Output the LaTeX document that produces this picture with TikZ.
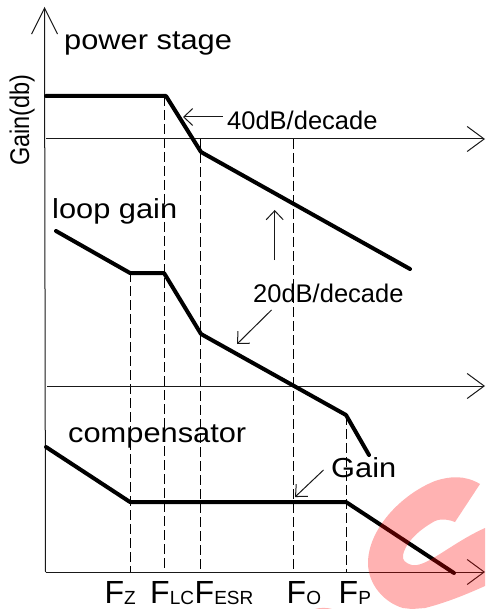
\documentclass[tikz,border=0pt]{standalone}
\usepackage{fontspec}
\usepackage{graphicx}
\setmainfont{Liberation Sans}
\usetikzlibrary{arrows.meta}
\tikzset{
 thin line/.style={line width=1pt,black!90},
 y arrow/.style={thin line,-{Straight Barb[length=26pt,width=26pt,line width=1pt]}},
 open arrow/.style={thin line,-{Straight Barb[length=17pt,width=25pt,line width=1pt]}},
 small arrow/.style={thin line,-{Straight Barb[length=9pt,width=17pt,line width=1pt]}},
 guide/.style={line width=1pt,dash pattern=on 10pt off 4pt},
 curve/.style={line width=4pt,line cap=round,line join=round},
 label/.style={inner sep=0pt,anchor=base west,font=\fontsize{27.500}{28}\selectfont},
 slope/.style={inner sep=0pt,anchor=base west,font=\fontsize{25.500}{26}\selectfont},
 flabel/.style={inner sep=0pt,anchor=base west,font=\fontsize{32}{32}\selectfont},
 watermark/.style={red,fill opacity=0.3},
}
\newcommand{\subt}[1]{\raisebox{-1pt}{\fontsize{19}{19}\selectfont #1}}
\newcommand{\wide}[1]{\scalebox{1.12}[1]{#1}}
\begin{document}
\begin{tikzpicture}[x=1pt,y=-1pt]
\useasboundingbox (0,0) rectangle (485,609);
% coordinates
\coordinate (o) at (45.500,572);
\coordinate (top) at (44.500,7);
\coordinate (x1s) at (46,139);
\coordinate (x1e) at (485,139);
\coordinate (x2s) at (47,386);
\coordinate (x2e) at (485,386);
\coordinate (x3e) at (485,572);
% guides
\draw[guide] (130,272) -- (130,572);
\draw[guide] (164.500,96) -- (164.500,572);
\draw[guide] (200.500,139) -- (200.500,572);
\draw[guide] (293,139) -- (293,572);
\draw[guide] (346.500,415) -- (346.500,572);
% axes
\draw[y arrow] (o) -- (top);
\draw[open arrow] (x1s) -- (x1e);
\draw[open arrow] (x2s) -- (x2e);
\draw[open arrow] (o) -- (x3e);
% curves
\draw[curve] (46,96) -- (166,96) -- (201,152) -- (410,269);
\draw[curve] (56,231) -- (130,273) -- (164,273) -- (201,334) -- (346,415) -- (369,455);
\draw[curve] (46,447) -- (130,502) -- (346,502) -- (454,573);
% small arrows
\draw[small arrow] (222.500,117) -- (183,117);
\draw[small arrow] (274.700,260) -- (274.700,210);
\draw[small arrow] (271.500,310) -- (237,344);
\draw[small arrow] (323.500,470) -- (295,497);
% labels
\node[label] (ps) at (64,49.500) {\wide{power stage}};
\node[label] (lg) at (52,218.500) {\wide{loop gain}};
\node[label] (co) at (68,442.500) {\wide{compensator}};
\node[label] (ga) at (331,477) {\wide{Gain}};
\node[slope] (d40) at (227,130) {40dB/decade};
\node[slope] (d20) at (253,302) {20dB/decade};
\node[inner sep=0pt,rotate=90,anchor=base west,font=\fontsize{27}{27}\selectfont] (gd) at (29,166) {\scalebox{0.87}[1]{Gain(db)}};
\node[flabel] (fz) at (104.500,603) {F\subt{Z}};
\node[flabel] (flc) at (150,603) {F\subt{LC}};
\node[flabel] (fesr) at (194.500,603) {F\subt{ESR}};
\node[flabel] (fo) at (286.500,603) {F\subt{O}};
\node[flabel] (fp) at (338.500,603) {F\subt{P}};
% watermark
\fill[watermark] (480,484) .. controls (465,475) and (450,476) .. (435,481)
 .. controls (400,495) and (368,530) .. (368,563)
 .. controls (368,585) and (385,603) .. (403,608)
 -- (412,609) -- (425,608) .. controls (445,603) and (465,595) .. (485,586) -- (485,528)
 .. controls (465,537) and (450,548) .. (435,557)
 .. controls (425,563) and (418,566) .. (412,565)
 .. controls (405,563) and (402,560) .. (403,555)
 .. controls (405,545) and (415,532) .. (435,521)
 .. controls (442,518) and (450,520) .. (455,522) -- cycle;
\fill[watermark] (315,609) .. controls (320,607.500) and (327,607.500) .. (332,609) -- cycle;
\end{tikzpicture}
\end{document}
